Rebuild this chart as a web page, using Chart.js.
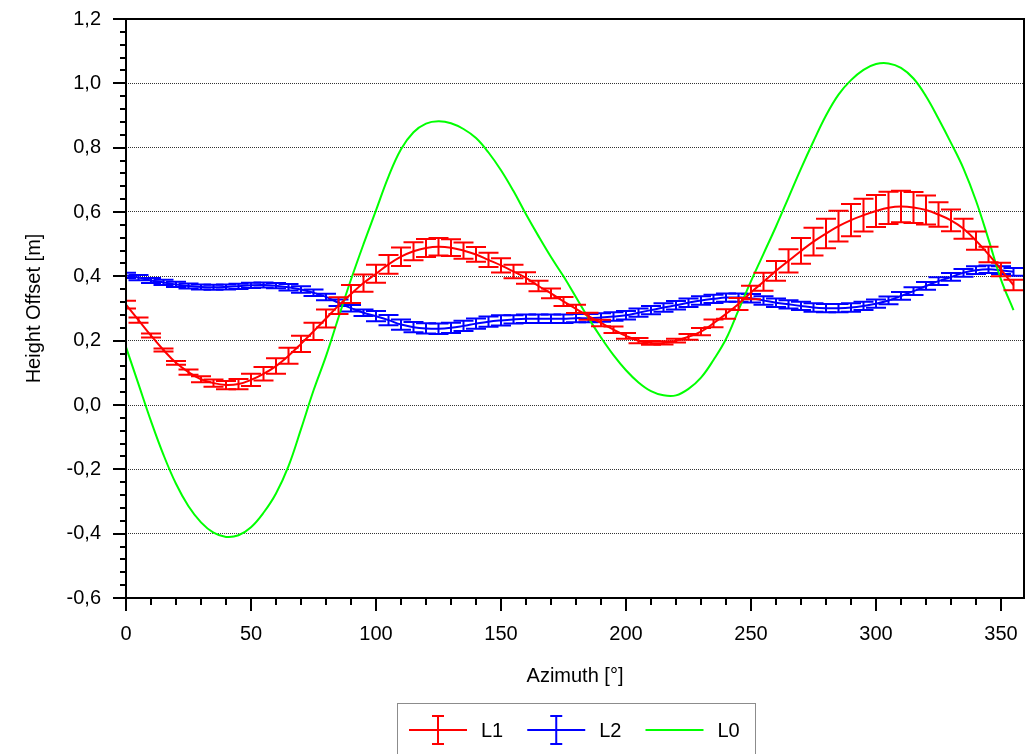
<!DOCTYPE html>
<html>
<head>
<meta charset="utf-8">
<script src="https://cdn.jsdelivr.net/npm/chart.js@4.4.0/dist/chart.umd.min.js"></script>
<style>
html, body { margin: 0; padding: 0; background: #fff; }
#wrap { width: 1025px; height: 754px; }
</style>
</head>
<body>
<div id="wrap"><canvas id="chart" width="1025" height="754"></canvas></div>
<script>
const azimuth = [0, 5, 10, 15, 20, 25, 30, 35, 40, 45, 50, 55, 60, 65, 70, 75, 80, 85, 90, 95,
    100, 105, 110, 115, 120, 125, 130, 135, 140, 145, 150, 155, 160, 165, 170, 175, 180, 185, 190, 195,
    200, 205, 210, 215, 220, 225, 230, 235, 240, 245, 250, 255, 260, 265, 270, 275, 280, 285, 290, 295,
    300, 305, 310, 315, 320, 325, 330, 335, 340, 345, 350, 355];

// L1 (red, with error bars)
const l1Values = [0.312, 0.264, 0.216, 0.171, 0.131, 0.102, 0.080, 0.068, 0.062, 0.065, 0.078, 0.097, 0.121, 0.153, 0.190, 0.229, 0.269, 0.309, 0.345, 0.379,
    0.408, 0.437, 0.461, 0.478, 0.488, 0.492, 0.489, 0.480, 0.468, 0.451, 0.434, 0.415, 0.395, 0.370, 0.347, 0.322, 0.299, 0.276, 0.255, 0.234,
    0.215, 0.200, 0.193, 0.193, 0.200, 0.212, 0.228, 0.254, 0.283, 0.314, 0.350, 0.383, 0.417, 0.448, 0.479, 0.508, 0.533, 0.556, 0.575, 0.590,
    0.603, 0.613, 0.617, 0.614, 0.606, 0.592, 0.574, 0.548, 0.511, 0.468, 0.421, 0.373];
const l1Errors = [0.012, 0.008, 0.006, 0.005, 0.006, 0.008, 0.009, 0.011, 0.013, 0.016, 0.019, 0.021, 0.024, 0.025, 0.025, 0.027, 0.028, 0.026, 0.028, 0.027,
    0.028, 0.029, 0.029, 0.028, 0.028, 0.027, 0.026, 0.025, 0.023, 0.022, 0.022, 0.021, 0.018, 0.016, 0.015, 0.014, 0.013, 0.011, 0.010, 0.010,
    0.009, 0.008, 0.006, 0.005, 0.006, 0.009, 0.011, 0.012, 0.015, 0.019, 0.021, 0.028, 0.031, 0.036, 0.040, 0.043, 0.046, 0.048, 0.050, 0.051,
    0.050, 0.050, 0.049, 0.048, 0.045, 0.038, 0.034, 0.031, 0.028, 0.024, 0.021, 0.016];

// L2 (blue, with error bars)
const l2Values = [0.403, 0.396, 0.387, 0.381, 0.375, 0.370, 0.367, 0.366, 0.367, 0.369, 0.372, 0.373, 0.371, 0.366, 0.359, 0.349, 0.336, 0.318, 0.301, 0.287,
    0.276, 0.264, 0.250, 0.242, 0.238, 0.237, 0.240, 0.246, 0.253, 0.259, 0.263, 0.266, 0.268, 0.268, 0.268, 0.268, 0.270, 0.270, 0.272, 0.275,
    0.279, 0.287, 0.295, 0.303, 0.310, 0.318, 0.325, 0.330, 0.334, 0.334, 0.332, 0.325, 0.318, 0.313, 0.308, 0.303, 0.301, 0.301, 0.303, 0.308,
    0.315, 0.325, 0.339, 0.354, 0.370, 0.385, 0.398, 0.411, 0.419, 0.422, 0.419, 0.414];
const l2Errors = [0.008, 0.008, 0.008, 0.008, 0.008, 0.008, 0.008, 0.008, 0.008, 0.008, 0.008, 0.008, 0.008, 0.010, 0.010, 0.010, 0.010, 0.010, 0.010, 0.010,
    0.016, 0.016, 0.016, 0.016, 0.016, 0.016, 0.016, 0.016, 0.016, 0.016, 0.016, 0.013, 0.013, 0.013, 0.013, 0.013, 0.013, 0.013, 0.013, 0.013,
    0.013, 0.013, 0.013, 0.013, 0.013, 0.013, 0.013, 0.013, 0.013, 0.013, 0.013, 0.013, 0.013, 0.013, 0.013, 0.013, 0.013, 0.013, 0.013, 0.013,
    0.013, 0.012, 0.012, 0.012, 0.012, 0.012, 0.012, 0.012, 0.012, 0.012, 0.012, 0.012];

// L0 (green line)
const l0Values = [0.180, 0.065, -0.050, -0.155, -0.245, -0.315, -0.365, -0.397, -0.410, -0.405, -0.380, -0.335, -0.275, -0.190, -0.075, 0.045, 0.152, 0.272, 0.390, 0.500,
    0.605, 0.710, 0.795, 0.848, 0.875, 0.882, 0.876, 0.858, 0.830, 0.785, 0.730, 0.665, 0.593, 0.525, 0.460, 0.400, 0.335, 0.270, 0.210, 0.155,
    0.108, 0.070, 0.043, 0.030, 0.030, 0.050, 0.085, 0.140, 0.205, 0.295, 0.385, 0.470, 0.555, 0.645, 0.735, 0.820, 0.900, 0.965, 1.010, 1.042,
    1.060, 1.062, 1.048, 1.015, 0.960, 0.890, 0.815, 0.735, 0.635, 0.515, 0.390, 0.295];

const seriesNames = ['L1', 'L2', 'L0'];
const seriesColors = ['#ff0000', '#0000ff', '#00ff00'];

const FONT = "'Liberation Sans', Arial, sans-serif";

function points(values) {
    return azimuth.map((a, i) => ({ x: a, y: values[i] }));
}

// vertical error bars with caps, drawn right after their own line
const errorBars = {
    id: 'errorBars',
    afterDatasetDraw(chart, args) {
        const ds = chart.data.datasets[args.index];
        if (!ds.errors) return;
        const ctx = chart.ctx;
        const yScale = chart.scales.y;
        const area = chart.chartArea;
        ctx.save();
        ctx.beginPath();
        ctx.rect(area.left, area.top, area.right - area.left, area.bottom - area.top);
        ctx.clip();
        ctx.strokeStyle = ds.borderColor;
        ctx.lineWidth = 2;
        args.meta.data.forEach((pt, i) => {
            const v = ds.data[i].y;
            const e = ds.errors[i];
            const top = yScale.getPixelForValue(v + e);
            const bot = yScale.getPixelForValue(v - e);
            ctx.beginPath();
            ctx.moveTo(pt.x, top);
            ctx.lineTo(pt.x, bot);
            ctx.moveTo(pt.x - 10, top);
            ctx.lineTo(pt.x + 10, top);
            ctx.moveTo(pt.x - 10, bot);
            ctx.lineTo(pt.x + 10, bot);
            ctx.stroke();
        });
        ctx.restore();
    }
};

// frame, major/minor tick marks and the boxed legend
const frameAndLegend = {
    id: 'frameAndLegend',
    afterDraw(chart) {
        const ctx = chart.ctx;
        const area = chart.chartArea;
        const xs = chart.scales.x;
        const ys = chart.scales.y;
        ctx.save();
        ctx.strokeStyle = '#000';
        ctx.lineWidth = 2;
        ctx.strokeRect(area.left, area.top, area.right - area.left, area.bottom - area.top);

        ctx.beginPath();
        const yt = ys.ticks.map(t => t.value);
        yt.forEach((v, i) => {
            const py = Math.round(ys.getPixelForValue(v));
            ctx.moveTo(area.left - 13, py);
            ctx.lineTo(area.left, py);
            if (i < yt.length - 1) {
                for (let k = 1; k < 5; k++) {
                    const my = Math.round(ys.getPixelForValue(v + (yt[i + 1] - v) * k / 5));
                    ctx.moveTo(area.left - 6, my);
                    ctx.lineTo(area.left, my);
                }
            }
        });
        const xt = xs.ticks.map(t => t.value);
        xt.forEach(v => {
            const px = Math.round(xs.getPixelForValue(v));
            ctx.moveTo(px, area.bottom);
            ctx.lineTo(px, area.bottom + 13);
            for (let k = 1; k < 5; k++) {
                const mv = v + k * 10;
                if (mv > xs.max) break;
                const mx = Math.round(xs.getPixelForValue(mv));
                ctx.moveTo(mx, area.bottom);
                ctx.lineTo(mx, area.bottom + 7);
            }
        });
        ctx.stroke();

        // legend
        ctx.lineWidth = 1;
        ctx.strokeStyle = '#8c8c8c';
        ctx.strokeRect(397.5, 703.5, 358, 60);
        ctx.font = '20px ' + FONT;
        ctx.textBaseline = 'middle';
        ctx.textAlign = 'left';
        let x = 409;
        const ly = 730;
        chart.data.datasets.forEach(ds => {
            ctx.strokeStyle = ds.borderColor;
            ctx.lineWidth = 2;
            ctx.beginPath();
            ctx.moveTo(x, ly);
            ctx.lineTo(x + 58, ly);
            if (ds.errors) {
                const cx = x + 29;
                ctx.moveTo(cx, ly - 14);
                ctx.lineTo(cx, ly + 14);
                ctx.moveTo(cx - 6, ly - 14);
                ctx.lineTo(cx + 6, ly - 14);
                ctx.moveTo(cx - 6, ly + 14);
                ctx.lineTo(cx + 6, ly + 14);
            }
            ctx.stroke();
            ctx.fillStyle = '#000';
            ctx.fillText(ds.label, x + 72, ly + 1);
            x += 72 + ctx.measureText(ds.label).width + 24;
        });
        ctx.restore();
    }
};

new Chart(document.getElementById('chart'), {
    type: 'line',
    data: {
        datasets: [
            {
                label: seriesNames[0],
                data: points(l1Values),
                errors: l1Errors,
                borderColor: seriesColors[0],
                borderWidth: 2,
                pointRadius: 0,
                tension: 0.4,
                order: 0
            },
            {
                label: seriesNames[1],
                data: points(l2Values),
                errors: l2Errors,
                borderColor: seriesColors[1],
                borderWidth: 2,
                pointRadius: 0,
                tension: 0.4,
                order: 2
            },
            {
                label: seriesNames[2],
                data: points(l0Values),
                borderColor: seriesColors[2],
                borderWidth: 2,
                pointRadius: 0,
                tension: 0.4,
                order: 1
            }
        ]
    },
    options: {
        responsive: false,
        animation: false,
        devicePixelRatio: 1,
        layout: { padding: { top: 19, right: 1, left: 0, bottom: 0 } },
        plugins: {
            legend: { display: false },
            tooltip: { enabled: false }
        },
        scales: {
            x: {
                type: 'linear',
                min: 0,
                max: 359.2,
                afterFit(scale) {
                    scale.height = 156;
                    scale.paddingLeft = 0;
                    scale.paddingRight = 0;
                },
                ticks: {
                    stepSize: 50,
                    includeBounds: false,
                    autoSkip: false,
                    maxRotation: 0,
                    padding: 24,
                    color: '#000',
                    font: { family: FONT, size: 20 }
                },
                grid: { display: false, drawTicks: false },
                border: { display: false },
                title: {
                    display: true,
                    text: 'Azimuth [°]',
                    color: '#000',
                    font: { family: FONT, size: 20 },
                    padding: { top: 0, bottom: 66 }
                }
            },
            y: {
                min: -0.6,
                max: 1.2,
                afterFit(scale) {
                    scale.width = 126;
                    scale.paddingTop = 0;
                    scale.paddingBottom = 0;
                },
                ticks: {
                    stepSize: 0.2,
                    padding: 25,
                    color: '#000',
                    font: { family: FONT, size: 20 },
                    callback: v => v.toFixed(1).replace('.', ',')
                },
                grid: {
                    drawTicks: false,
                    lineWidth: 1,
                    color: c => (c.tick && (Math.abs(c.tick.value - 1.2) < 1e-6 || Math.abs(c.tick.value + 0.6) < 1e-6)) ? 'rgba(0,0,0,0)' : '#333'
                },
                border: { display: false, dash: [1, 1] },
                title: {
                    display: true,
                    text: 'Height Offset [m]',
                    color: '#000',
                    font: { family: FONT, size: 20 },
                    padding: { top: 22, bottom: 0 }
                }
            }
        }
    },
    plugins: [errorBars, frameAndLegend]
});
</script>
</body>
</html>
